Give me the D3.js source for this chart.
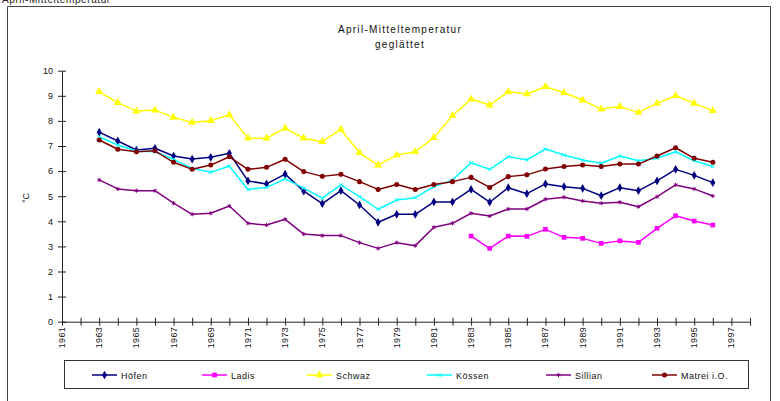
<!DOCTYPE html>
<html>
<head>
<meta charset="utf-8">
<script src="https://cdn.jsdelivr.net/npm/d3@7"></script>
<style>
  html, body { margin: 0; padding: 0; background: #fff; }
  svg { display: block; font-family: "Liberation Sans", Arial, sans-serif; }
</style>
</head>
<body>
<svg id="chart" width="780" height="401"></svg>
<script>
// Smoothed April mean temperature (°C) per station, 1963–1996
const years = d3.range(1963, 1997);

const hoefen  = [7.55,7.20,6.84,6.91,6.60,6.48,6.55,6.71,5.61,5.49,5.88,5.20,4.70,5.22,4.65,3.96,4.28,4.28,4.77,4.77,5.27,4.76,5.34,5.10,5.49,5.38,5.31,5.02,5.34,5.22,5.61,6.07,5.83,5.54];
const ladis   = [null,null,null,null,null,null,null,null,null,null,null,null,null,null,null,null,null,null,null,null,3.41,2.92,3.41,3.40,3.68,3.36,3.32,3.12,3.22,3.16,3.72,4.22,4.01,3.85];
const schwaz  = [9.16,8.73,8.39,8.43,8.14,7.94,8.01,8.24,7.31,7.31,7.71,7.31,7.17,7.66,6.73,6.24,6.64,6.77,7.33,8.21,8.87,8.63,9.16,9.07,9.36,9.12,8.83,8.47,8.57,8.34,8.70,9.00,8.70,8.41];
const koessen = [7.37,7.04,6.80,6.77,6.47,6.11,5.95,6.20,5.27,5.35,5.69,5.32,4.92,5.45,4.98,4.48,4.85,4.94,5.38,5.65,6.33,6.07,6.57,6.45,6.88,6.64,6.44,6.31,6.60,6.41,6.51,6.77,6.41,6.18];
const sillian = [5.65,5.29,5.22,5.22,4.72,4.28,4.32,4.61,3.92,3.85,4.08,3.49,3.43,3.43,3.15,2.92,3.15,3.03,3.76,3.92,4.32,4.21,4.49,4.49,4.88,4.96,4.81,4.72,4.76,4.58,4.98,5.45,5.29,5.01];
const matrei  = [7.24,6.87,6.77,6.81,6.35,6.07,6.24,6.57,6.07,6.15,6.47,5.98,5.79,5.87,5.58,5.27,5.47,5.27,5.47,5.58,5.75,5.35,5.78,5.85,6.08,6.18,6.24,6.18,6.28,6.28,6.60,6.93,6.51,6.35];

const seriesNames  = ["Höfen", "Ladis", "Schwaz", "Kössen", "Sillian", "Matrei i.O."];
const seriesValues = [hoefen, ladis, schwaz, koessen, sillian, matrei];
const seriesColors = ["#000080", "#ff00ff", "#ffff00", "#00ffff", "#800080", "#800000"];
const seriesMarkers = ["diamond", "square", "triangle", "cross", "star", "circle"];

const yTicks = d3.range(0, 11, 1);
const xTickLabels = d3.range(1961, 1998, 2);
const xTickMarks = d3.range(1961, 1999, 1);

const svg = d3.select("#chart");

// frame around the whole chart area
svg.append("path")
  .attr("d", "M7.5,401 V6.5 H770.5 V401")
  .attr("fill", "none").attr("stroke", "#444").attr("stroke-width", 1);

// heading line at the very top, partly above the page edge
svg.append("text").attr("x", 2).attr("y", 3)
  .attr("font-size", 10).attr("fill", "#222").attr("letter-spacing", 0.6)
  .text("April-Mitteltemperatur");

// title
const title = svg.append("text").attr("text-anchor", "middle")
  .attr("font-size", 10).attr("fill", "#111").attr("letter-spacing", 1.3);
title.append("tspan").attr("x", 400).attr("y", 33).text("April-Mitteltemperatur");
title.append("tspan").attr("x", 400).attr("y", 48).text("geglättet");

const x = d3.scaleLinear().domain([1961, 1998]).range([62, 750]);
const y = d3.scaleLinear().domain([0, 10]).range([321.7, 70.7]);

// y axis
const yAxis = d3.axisLeft(y).tickValues(yTicks).tickFormat(d3.format("d"))
  .tickSizeInner(4).tickSizeOuter(0).tickPadding(5);
const gy = svg.append("g").attr("transform", "translate(62,0)").call(yAxis);
gy.select(".domain").attr("stroke", "#222");
gy.selectAll(".tick line").attr("x2", 4).attr("x1", -4).attr("stroke", "#222");
gy.selectAll(".tick text").attr("font-size", 9).attr("fill", "#111")
  .attr("font-family", "Liberation Sans, Arial, sans-serif");

// x axis: a tick every year, a label every second year
const xAxis = d3.axisBottom(x).tickValues(xTickMarks).tickFormat("")
  .tickSizeInner(4).tickSizeOuter(0);
const gx = svg.append("g").attr("transform", "translate(0,321.7)").call(xAxis);
gx.select(".domain").attr("stroke", "#222");
gx.selectAll(".tick line").attr("y1", -4).attr("y2", 4).attr("stroke", "#222");

svg.append("g").selectAll("text").data(xTickLabels).join("text")
  .attr("transform", d => `translate(${x(d) + 3},327) rotate(-90)`)
  .attr("text-anchor", "end")
  .attr("font-size", 9).attr("fill", "#111").attr("letter-spacing", 0.3)
  .text(d => d);

// y axis title
svg.append("text")
  .attr("transform", "translate(29,198) rotate(-90)")
  .attr("text-anchor", "middle").attr("font-size", 9).attr("fill", "#111")
  .text("°C");

// markers
function drawMarker(sel, kind, color) {
  if (kind === "diamond") {
    sel.append("path").attr("d", d3.symbol(d3.symbolDiamond, 22)())
      .attr("fill", color);
  } else if (kind === "square") {
    sel.append("path").attr("d", d3.symbol(d3.symbolSquare, 22)())
      .attr("fill", color);
  } else if (kind === "triangle") {
    sel.append("path").attr("d", d3.symbol(d3.symbolTriangle, 28)())
      .attr("fill", color);
  } else if (kind === "cross") {
    sel.append("path").attr("d", d3.symbol(d3.symbolX, 10)())
      .attr("fill", "none").attr("stroke", color).attr("stroke-width", 1);
  } else if (kind === "star") {
    sel.append("path").attr("d", d3.symbol(d3.symbolAsterisk, 12)())
      .attr("fill", "none").attr("stroke", color).attr("stroke-width", 1);
  } else {
    sel.append("path").attr("d", d3.symbol(d3.symbolCircle, 20)())
      .attr("fill", color);
  }
}

const line = d3.line()
  .defined(d => d.v != null)
  .x(d => x(d.year))
  .y(d => y(d.v));

const plot = svg.append("g");
seriesValues.forEach((vals, i) => {
  const pts = years.map((yr, k) => ({ year: yr, v: vals[k] }));
  const g = plot.append("g");
  g.append("path").datum(pts)
    .attr("d", line)
    .attr("fill", "none")
    .attr("stroke", seriesColors[i])
    .attr("stroke-width", 1.5)
    .attr("stroke-linejoin", "round");
  g.selectAll("g.m").data(pts.filter(p => p.v != null)).join("g")
    .attr("class", "m")
    .attr("transform", p => `translate(${x(p.year)},${y(p.v)})`)
    .each(function () { drawMarker(d3.select(this), seriesMarkers[i], seriesColors[i]); });
});

// legend
svg.append("rect").attr("x", 64.5).attr("y", 360.5).attr("width", 684).attr("height", 28)
  .attr("fill", "#fff").attr("stroke", "#333").attr("stroke-width", 1);

const legendX = [92, 202, 307, 427, 546, 652];
seriesNames.forEach((name, i) => {
  const lg = svg.append("g").attr("transform", `translate(${legendX[i]},375)`);
  lg.append("line").attr("x1", 0).attr("x2", 25).attr("y1", 0).attr("y2", 0)
    .attr("stroke", seriesColors[i]).attr("stroke-width", 1.5);
  const mk = lg.append("g").attr("transform", "translate(12.5,0)");
  drawMarker(mk, seriesMarkers[i], seriesColors[i]);
  lg.append("text").attr("x", 29).attr("y", 3.5)
    .attr("font-size", 9).attr("fill", "#111").attr("letter-spacing", 0.5).text(name);
});
</script>
</body>
</html>
